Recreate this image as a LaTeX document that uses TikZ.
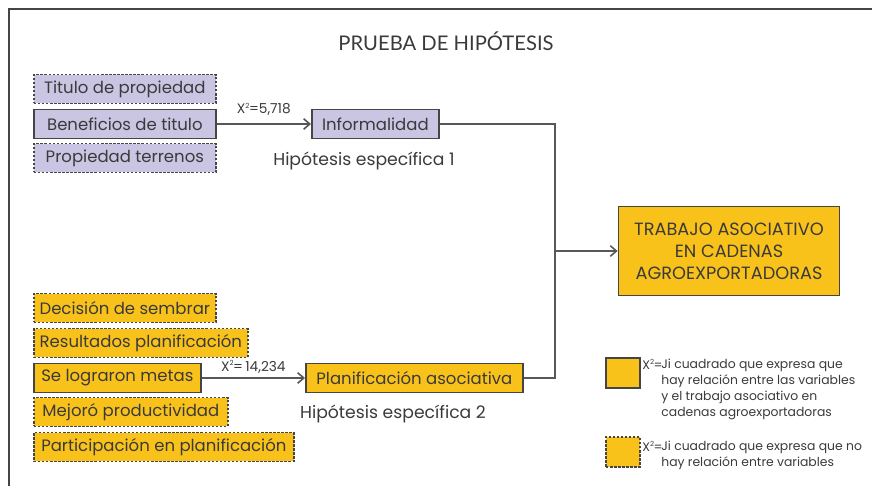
\documentclass[tikz,border=0pt]{standalone}
\usepackage{fontspec}
\setmainfont{Poppins}
\newfontfamily\titlefont{Lato}
\usetikzlibrary{arrows.meta}
\definecolor{lila}{HTML}{C9C5E2}
\definecolor{oro}{HTML}{F9C21B}
\definecolor{borde}{HTML}{454545}
\definecolor{texto}{HTML}{3A3A3A}
\newcommand{\jicuad}{X\raisebox{0.75ex}{\fontsize{4}{4}\selectfont 2}\kern-0.3pt=}
\tikzset{
  caja/.style={draw=borde,line width=1pt,minimum height=0.58cm,inner sep=1.5pt,
    anchor=west,text=texto,font=\fontsize{9.4}{11}\selectfont},
  rayada/.style={caja,dash pattern=on 1.4pt off 0.9pt},
  liga/.style={draw=borde!90,line width=0.6pt},
  flecha/.style={liga,-{Straight Barb[length=3.5pt,width=6pt,line width=0.9pt]}},
  nota/.style={text=texto,font=\fontsize{7.8}{9}\selectfont},
  hipo/.style={text=texto,font=\fontsize{9.8}{11}\selectfont},
  leyenda/.style={text=texto,font=\fontsize{7.05}{9.1}\selectfont,inner sep=0pt}
}
\begin{document}
\begin{tikzpicture}[x=0.02cm,y=-0.02cm]
  \useasboundingbox (0,0) rectangle (872,486);
  % marco
  \draw[borde,line width=1.3pt] (9,486) -- (9,9) -- (872,9);
  \node[text=texto,font=\titlefont\fontsize{11.5}{13}\selectfont] (titulo) at (446,41) {PRUEBA DE HIPÓTESIS};

  % hipotesis 1
  \node[rayada,fill=lila,minimum width=3.64cm] (t1) at (33,89) {Titulo de propiedad};
  \node[caja,fill=lila,minimum width=3.64cm] (t2) at (33,124) {Beneficios de titulo};
  \node[rayada,fill=lila,minimum width=3.64cm] (t3) at (33,158) {Propiedad terrenos};
  \node[caja,fill=lila,minimum width=2.54cm] (inf) at (311,124) {Informalidad};
  \node[hipo] (h1) at (364,161) {Hipótesis específica 1};

  % hipotesis 2
  \node[rayada,fill=oro,minimum width=3.64cm] (p1) at (33,308) {Decisión de sembrar};
  \node[rayada,fill=oro,minimum width=4.28cm] (p2) at (33,343) {Resultados planificación};
  \node[caja,fill=oro,minimum width=3.34cm] (p3) at (33,378) {Se lograron metas};
  \node[rayada,fill=oro,minimum width=3.88cm] (p4) at (33,412) {Mejoró productividad};
  \node[rayada,fill=oro,minimum width=5.2cm] (p5) at (33,447) {Participación en planificación};
  \node[caja,fill=oro,minimum width=4.34cm] (pla) at (305,378) {Planificación asociativa};
  \node[hipo] (h2) at (393,414) {Hipótesis específica 2};

  % variable dependiente
  \node[draw=borde,line width=1pt,fill=oro,minimum width=4.42cm,minimum height=1.78cm,
    align=center,text=texto,font=\fontsize{10.1}{12.5}\selectfont] (tra) at (729,251)
    {TRABAJO ASOCIATIVO\\EN CADENAS\\AGROEXPORTADORAS};

  % conexiones
  \draw[flecha] (t2) -- node[nota,above,pos=0.5,yshift=1pt] {\jicuad5,718} (inf);
  \draw[flecha] (p3) -- node[nota,above,pos=0.5,yshift=-1pt] {\jicuad\,14,234} (pla);
  \coordinate (c1) at (555,124);
  \coordinate (c2) at (555,378);
  \coordinate (c3) at (555,251);
  \draw[liga] (inf) -- (c1) -- (c2) -- (pla);
  \draw[flecha] (c3) -- (tra);

  % leyenda
  \node[draw=borde,line width=1pt,fill=oro,minimum width=0.68cm,minimum height=0.6cm] (l1) at (623,373) {};
  \node[draw=borde,line width=1pt,fill=oro,minimum width=0.68cm,minimum height=0.6cm,
    dash pattern=on 1.4pt off 0.9pt] (l2) at (623,452) {};
  \node[leyenda,anchor=north west] (x1) at (642,359) {\jicuad};
  \node[leyenda,anchor=north west,align=left] (d1) at (661,359)
    {Ji cuadrado que expresa que\\hay relación entre las variables\\y el trabajo asociativo en\\cadenas agroexportadoras};
  \node[leyenda,anchor=north west] (x2) at (642,441) {\jicuad};
  \node[leyenda,anchor=north west,align=left] (d2) at (661,441)
    {Ji cuadrado que expresa que no\\hay relación entre variables};
\end{tikzpicture}
\end{document}
